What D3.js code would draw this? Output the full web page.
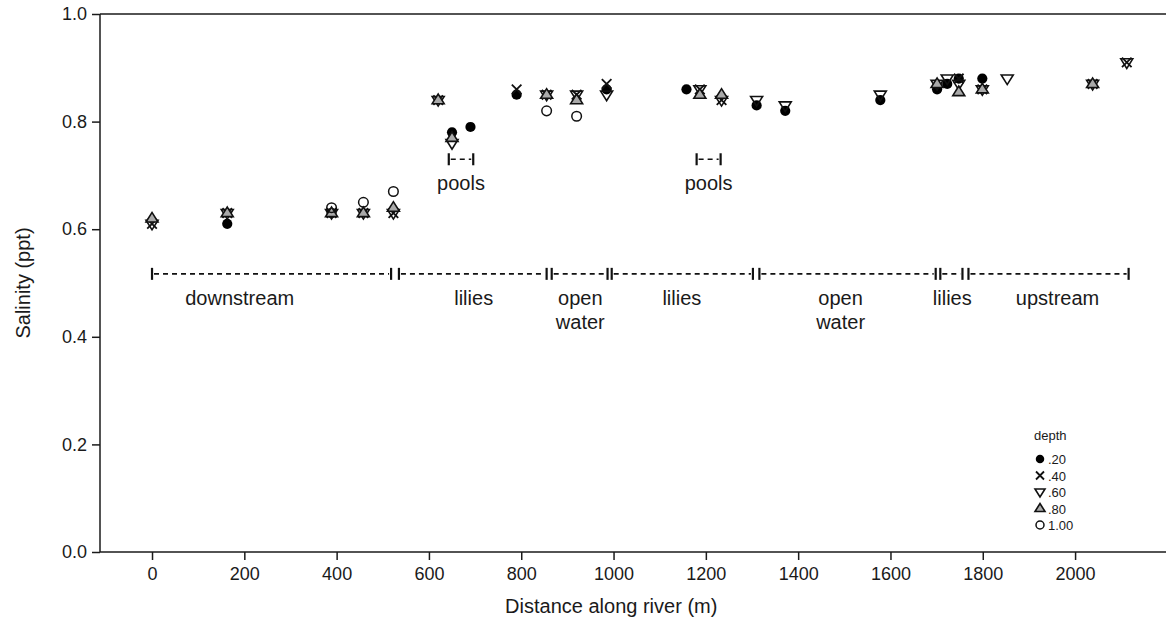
<!DOCTYPE html>
<html><head><meta charset="utf-8">
<script src="https://cdn.jsdelivr.net/npm/d3@7"></script>
<style>body{margin:0;background:#fff}svg{display:block;font-family:"Liberation Sans",Arial,sans-serif}</style>
</head><body><svg id="c" width="1166" height="639"></svg>
<script>
// Stations along river (m)
const stations = [0,163,389,458,523,620,650,690,790,855,920,985,1158,1187,1234,1310,1372,1578,1701,1723,1748,1799,1853,2038,2112];
const depthLabels = [".20",".40",".60",".80","1.00"];
const d20  = [null,0.61,0.63,null,null,null,0.78,0.79,0.85,null,null,0.86,0.86,null,null,0.83,0.82,0.84,0.86,0.87,0.88,0.88,null,null,null];
const d40  = [0.61,0.63,0.63,0.63,0.63,0.84,null,null,0.86,0.85,0.85,0.87,null,0.86,0.84,null,null,null,null,null,0.88,0.86,null,0.87,0.91];
const d60  = [0.61,0.63,0.63,0.63,0.63,0.84,0.76,null,null,0.85,0.85,0.85,null,0.86,0.84,0.84,0.83,0.85,0.87,0.88,0.87,0.86,0.88,0.87,0.91];
const d80  = [0.62,0.63,0.63,0.63,0.64,0.84,0.77,null,null,0.85,0.84,null,null,0.85,0.85,null,null,null,0.87,null,0.855,0.86,null,0.87,null];
const d100 = [null,null,0.64,0.65,0.67,null,null,null,null,0.82,0.81,null,null,null,null,null,null,null,null,null,null,null,null,null,null];
const yTicks = [0,0.2,0.4,0.6,0.8,1.0];
const xTicks = [0,200,400,600,800,1000,1200,1400,1600,1800,2000];
// Habitat segments (m)
const segStart = [0,535,866,996,1316,1708,1769];
const segEnd   = [518,855,987,1302,1698,1756,2116];
const zoneLabels = ["downstream","lilies","open\nwater","lilies","open\nwater","lilies","upstream"];
const zoneLabelX = [190,697,928,1148,1492,1734,1962];
const poolStart = [643,1180];
const poolEnd   = [696,1232];
const segLevel = 0.517, poolLevel = 0.73;

const svg = d3.select("#c");
const x = d3.scaleLinear().domain([-112.7, 2197]).range([100, 1166]);
const y = d3.scaleLinear().domain([0, 1]).range([552, 14]);
const ink = "#1a1a1a";

// axes
const ya = svg.append("g").attr("transform","translate(100,0)")
  .call(d3.axisLeft(y).tickValues(yTicks).tickFormat(d3.format(".1f")).tickSize(8).tickPadding(5));
const xa = svg.append("g").attr("transform","translate(0,552)")
  .call(d3.axisBottom(x).tickValues(xTicks).tickFormat(d3.format("d")).tickSize(8).tickPadding(7));
[ya,xa].forEach(a=>{a.select(".domain").attr("stroke",ink).attr("stroke-width",1.5);
  a.selectAll(".tick line").attr("stroke",ink).attr("stroke-width",1.5);
  a.selectAll("text").attr("font-size",18).attr("fill",ink).attr("font-family","Liberation Sans, Arial");});
ya.select(".domain").attr("d","M0,14V552");
xa.select(".domain").attr("d","M100,0H1166");
svg.append("line").attr("x1",100).attr("x2",1166).attr("y1",y(1)).attr("y2",y(1)).attr("stroke",ink).attr("stroke-width",1.5);

svg.append("text").attr("x",x(995)).attr("y",613).attr("text-anchor","middle").attr("font-size",20).attr("fill",ink).text("Distance along river (m)");
svg.append("text").attr("transform",`translate(30,${(14+552)/2}) rotate(-90)`).attr("text-anchor","middle").attr("font-size",20).attr("fill",ink).text("Salinity (ppt)");

// segments
const segG = svg.append("g").attr("stroke","#111").attr("stroke-width",1.6);
function bracket(a,b,lev){
  const yy=y(lev);
  segG.append("line").attr("x1",x(a)+2).attr("x2",x(b)-2).attr("y1",yy).attr("y2",yy).attr("stroke-dasharray","5,4");
  segG.append("line").attr("x1",x(a)).attr("x2",x(a)).attr("y1",yy-6).attr("y2",yy+6).attr("stroke-width",2.2);
  segG.append("line").attr("x1",x(b)).attr("x2",x(b)).attr("y1",yy-6).attr("y2",yy+6).attr("stroke-width",2.2);
}
segStart.forEach((s,i)=>bracket(s,segEnd[i],segLevel));
poolStart.forEach((s,i)=>bracket(s,poolEnd[i],poolLevel));
zoneLabels.forEach((t,i)=>{
  const tx=svg.append("text").attr("x",x(zoneLabelX[i])).attr("y",y(segLevel)+31).attr("text-anchor","middle").attr("font-size",20).attr("fill",ink);
  t.split("\n").forEach((l,j)=>tx.append("tspan").attr("x",x(zoneLabelX[i])).attr("dy",j?24:0).text(l));
});
poolStart.forEach((s,i)=>svg.append("text").attr("x",x((s+poolEnd[i])/2)).attr("y",y(poolLevel)+31).attr("text-anchor","middle").attr("font-size",20).attr("fill",ink).text("pools"));

// markers
const sz=6;
const shapes = ["circle","x","down","up","ocircle"];
function drawMark(g,kind,cx,cy,s){
  if(kind==="circle") g.append("circle").attr("cx",cx).attr("cy",cy).attr("r",s*0.85).attr("fill","#000");
  else if(kind==="ocircle") g.append("circle").attr("cx",cx).attr("cy",cy).attr("r",s*0.8).attr("fill","none").attr("stroke","#111").attr("stroke-width",1.5);
  else if(kind==="x") g.append("path").attr("d",`M${cx-s*0.8},${cy-s*0.8}L${cx+s*0.8},${cy+s*0.8}M${cx-s*0.8},${cy+s*0.8}L${cx+s*0.8},${cy-s*0.8}`).attr("stroke","#111").attr("stroke-width",1.8);
  else if(kind==="down") g.append("path").attr("d",`M${cx-s},${cy-s*0.6}L${cx+s},${cy-s*0.6}L${cx},${cy+s*1.0}Z`).attr("fill","none").attr("stroke","#111").attr("stroke-width",1.6);
  else if(kind==="up") g.append("path").attr("d",`M${cx-s},${cy+s*0.6}L${cx+s},${cy+s*0.6}L${cx},${cy-s*1.0}Z`).attr("fill","#aaa").attr("stroke","#111").attr("stroke-width",1.6);
}
const series=[d20,d40,d60,d80,d100];
const mg=svg.append("g");
series.forEach((arr,k)=>{
  arr.forEach((v,i)=>{ if(v!=null) drawMark(mg,shapes[k],x(stations[i]),y(v),sz); });
});

// legend
const lg=svg.append("g");
lg.append("text").attr("x",1034).attr("y",440).attr("font-size",13).attr("fill",ink).text("depth");
depthLabels.forEach((t,k)=>{
  const cy=459+k*16.5;
  drawMark(lg,shapes[k],1040,cy,5);
  lg.append("text").attr("x",1048).attr("y",cy+5).attr("font-size",13).attr("fill",ink).text(t);
});
</script></body></html>
